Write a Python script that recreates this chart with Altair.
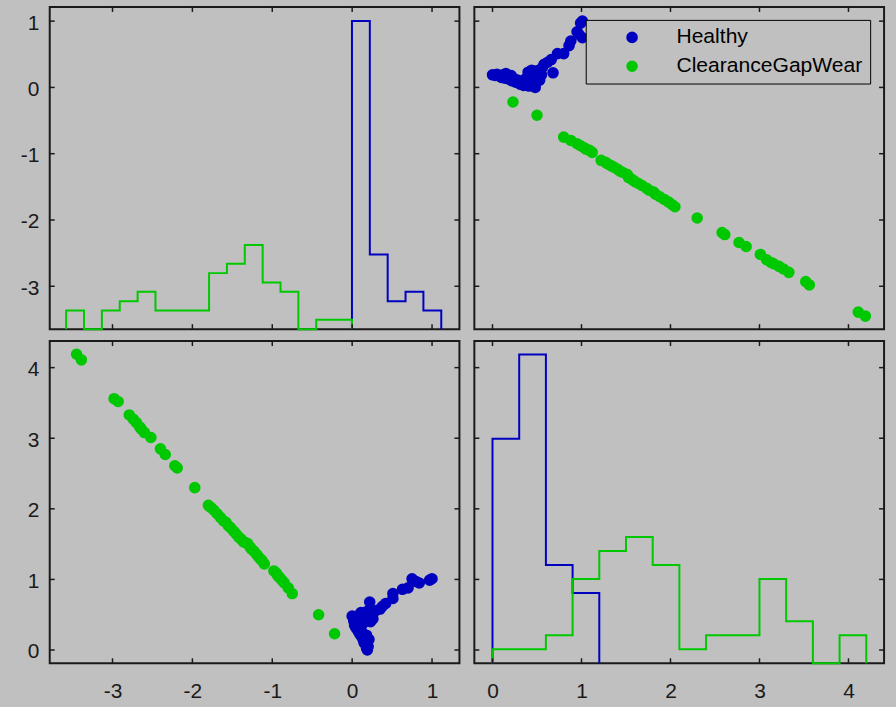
import altair as alt
import pandas as pd

# ---- groups and colours ----
GROUPS = ["Healthy", "ClearanceGapWear"]
COLORS = ["#0000C0", "#00C800"]
BG = "#C0C0C0"
INK = "#1A1A1A"
FONT = "Liberation Sans"

# ---- observations: (var1, var2) per group ----
healthy_v1 = [0.19, 0.18, 0.20, 0.17, 0.15, 0.19, 0.14, 0.16, 0.12, 0.10,
              0.13, 0.08, 0.11, 0.07, 0.18, 0.21, 0.05, 0.09, 0.03, 0.12,
              0.06, 0.15, 0.02, 0.10, 0.18, 0.04, 0.13, 0.00, 0.08, 0.16,
              0.20, 0.11, 0.19, 0.23, 0.26, 0.25, 0.30, 0.35, 0.22, 0.38,
              0.42, 0.51, 0.51, 0.63, 0.70, 0.75, 0.80, 0.84, 0.97, 1.00]
healthy_v2 = [0.00, 0.03, 0.05, 0.08, 0.10, 0.12, 0.14, 0.17, 0.19, 0.22,
              0.24, 0.26, 0.28, 0.29, 0.21, 0.15, 0.31, 0.33, 0.35, 0.36,
              0.38, 0.39, 0.41, 0.42, 0.43, 0.45, 0.46, 0.48, 0.49, 0.51,
              0.47, 0.53, 0.55, 0.40, 0.44, 0.50, 0.56, 0.58, 0.68, 0.62,
              0.66, 0.73, 0.80, 0.86, 0.88, 1.01, 0.97, 0.95, 0.99, 1.01]
wear_v1 = [-3.45, -3.39, -2.98, -2.93, -2.79, -2.74, -2.70, -2.66, -2.64, -2.60,
           -2.52, -2.40, -2.34, -2.22, -2.19, -1.97, -1.80, -1.77, -1.73, -1.69,
           -1.65, -1.61, -1.58, -1.55, -1.52, -1.48, -1.45, -1.42, -1.39, -1.36,
           -1.33, -1.31, -1.28, -1.26, -1.23, -1.20, -1.18, -1.15, -1.13, -1.10,
           -0.98, -0.95, -0.93, -0.91, -0.88, -0.85, -0.80, -0.75, -0.42, -0.22]
wear_v2 = [4.19, 4.11, 3.56, 3.52, 3.33, 3.27, 3.22, 3.16, 3.13, 3.08,
           3.01, 2.85, 2.77, 2.61, 2.58, 2.30, 2.05, 2.02, 1.98, 1.93,
           1.88, 1.83, 1.81, 1.76, 1.73, 1.68, 1.64, 1.60, 1.57, 1.53,
           1.52, 1.51, 1.46, 1.43, 1.40, 1.36, 1.33, 1.29, 1.27, 1.22,
           1.12, 1.09, 1.05, 1.03, 0.99, 0.95, 0.88, 0.80, 0.50, 0.23]

# ---- diagonal histograms (common bins, drawn over each group's span) ----
v1_bin_start, v1_bin_width = -3.58, 0.2236
v1_first_bin = {"Healthy": 16, "ClearanceGapWear": 0}
v1_counts = {"Healthy": [33, 8, 3, 4, 2],
             "ClearanceGapWear": [2, 0, 2, 3, 4, 2, 2, 2, 6, 7, 9, 5, 4, 0, 1, 1]}
v2_bin_start, v2_bin_width = 0.0, 0.3
v2_first_bin = {"Healthy": 0, "ClearanceGapWear": 0}
v2_counts = {"Healthy": [16, 22, 7, 5],
             "ClearanceGapWear": [1, 1, 2, 6, 8, 9, 7, 1, 2, 2, 6, 3, 0, 2]}

# ---- ticks and axis limits ----
v1_ticks = [-3, -2, -1, 0, 1]
v2_ticks = [0, 1, 2, 3, 4]
v1_xlim = [-3.786, 1.343]
v1_ylim = [-3.647, 1.214]
v2_xlim = [-0.204, 4.40]
v2_ylim = [-0.188, 4.376]
v1_count_top = 34.5
v2_count_top = 22.95

W, H = 412, 324
TICK = 5

points = pd.DataFrame({
    "var1": healthy_v1 + wear_v1,
    "var2": healthy_v2 + wear_v2,
    "group": ["Healthy"] * len(healthy_v1) + ["ClearanceGapWear"] * len(wear_v1),
})

color_scale = alt.Scale(domain=GROUPS, range=COLORS)


def lin(domain):
    return alt.Scale(domain=domain, nice=False, zero=False)


def x_axis(ticks):
    return alt.Axis(values=ticks, ticks=False, tickSize=0, domain=False, grid=False,
                    labelPadding=17, labelExpr="toString(datum.value)", title=None)


def y_axis(ticks):
    return alt.Axis(values=ticks, ticks=False, tickSize=0, domain=False, grid=False,
                    labelPadding=11, labelOffset=2, orient="left",
                    labelExpr="toString(datum.value)", title=None)


def stairs(first, counts, start, width):
    edges = [start + (first + i) * width for i in range(len(counts) + 1)]
    xs, ys = [edges[0]], [0]
    for i, c in enumerate(counts):
        xs += [edges[i], edges[i + 1]]
        ys += [c, c]
    xs.append(edges[-1])
    ys.append(0)
    return pd.DataFrame({"x": xs, "count": ys, "step": list(range(len(xs)))})


def x_ticks(ticks, domain, axis):
    df = pd.DataFrame({"t": ticks})
    bottom = alt.Chart(df).mark_rule(color=INK, strokeWidth=1.5).encode(
        x=alt.X("t:Q", scale=lin(domain), axis=axis), y=alt.value(H), y2=alt.value(H - TICK))
    top = alt.Chart(df).mark_rule(color=INK, strokeWidth=1.5).encode(
        x=alt.X("t:Q", scale=lin(domain), axis=axis), y=alt.value(0), y2=alt.value(TICK))
    return [bottom, top]


def y_ticks(ticks, domain, axis, right_axis):
    df = pd.DataFrame({"t": ticks})
    left = alt.Chart(df).mark_rule(color=INK, strokeWidth=1.5).encode(
        y=alt.Y("t:Q", scale=lin(domain), axis=axis), x=alt.value(0), x2=alt.value(TICK))
    right = alt.Chart(df).mark_rule(color=INK, strokeWidth=1.5).encode(
        y=alt.Y("t:Q", scale=lin(domain), axis=right_axis), x=alt.value(W), x2=alt.value(W - TICK))
    return [left, right]


def hist_layers(first, counts, start, width, xdomain, top, xaxis):
    layers = []
    for g, c in zip(GROUPS, COLORS):
        df = stairs(first[g], counts[g], start, width)
        layers.append(
            alt.Chart(df).mark_line(color=c, strokeWidth=2, strokeJoin="miter").encode(
                x=alt.X("x:Q", scale=lin(xdomain), axis=xaxis),
                y=alt.Y("count:Q", scale=alt.Scale(domain=[0, top], nice=False, zero=True), axis=None),
                order="step:Q",
            )
        )
    return layers


def scatter(xf, yf, xdomain, ydomain, xaxis, yaxis, legend):
    return alt.Chart(points).mark_circle(size=135, opacity=1).encode(
        x=alt.X(f"{xf}:Q", scale=lin(xdomain), axis=xaxis),
        y=alt.Y(f"{yf}:Q", scale=lin(ydomain), axis=yaxis),
        color=alt.Color("group:N", scale=color_scale, legend=legend),
    )


legend = alt.Legend(
    orient="none", legendX=112, legendY=13, title=None,
    fillColor=BG, strokeColor="#000000", padding=7, rowPadding=7,
    symbolType="circle", symbolSize=135, symbolStrokeWidth=0,
    symbolOffset=29, labelOffset=34,
    labelFont=FONT, labelFontSize=21.2, labelColor="#000000", labelLimit=0,
)

# top-left: histogram of var1 (y ticks labelled with var1)
top_left = alt.layer(
    *hist_layers(v1_first_bin, v1_counts, v1_bin_start, v1_bin_width, v1_xlim, v1_count_top, None),
    *x_ticks(v1_ticks, v1_xlim, None),
    *y_ticks(v1_ticks, v1_ylim, y_axis(v1_ticks), None),
).resolve_scale(y="independent").properties(width=W, height=H)

# top-right: var1 against var2
top_right = alt.layer(
    scatter("var2", "var1", v2_xlim, v1_ylim, None, None, legend),
    *x_ticks(v2_ticks, v2_xlim, None),
    *y_ticks(v1_ticks, v1_ylim, None, None),
).properties(width=W, height=H)

# bottom-left: var2 against var1
bl_x, bl_y = x_axis(v1_ticks), y_axis(v2_ticks)
bottom_left = alt.layer(
    scatter("var1", "var2", v1_xlim, v2_ylim, bl_x, bl_y, None),
    *x_ticks(v1_ticks, v1_xlim, bl_x),
    *y_ticks(v2_ticks, v2_ylim, bl_y, bl_y),
).properties(width=W, height=H)

# bottom-right: histogram of var2
br_x = x_axis(v2_ticks)
bottom_right = alt.layer(
    *hist_layers(v2_first_bin, v2_counts, v2_bin_start, v2_bin_width, v2_xlim, v2_count_top, br_x),
    *x_ticks(v2_ticks, v2_xlim, br_x),
    *y_ticks(v2_ticks, v2_ylim, None, None),
).resolve_scale(y="independent").properties(width=W, height=H)

chart = alt.vconcat(
    alt.hconcat(top_left, top_right, spacing=11).resolve_scale(color="independent"),
    alt.hconcat(bottom_left, bottom_right, spacing=11).resolve_scale(color="independent"),
    spacing=5,
).resolve_scale(color="independent").configure(
    background=BG,
    padding={"left": 19, "top": 3, "right": 10, "bottom": 10},
).configure_view(
    stroke=INK, strokeWidth=2,
).configure_axis(
    labelFont=FONT, labelFontSize=21, labelColor=INK,
)

chart.save("out.html", embed_options={"renderer": "svg", "actions": False})
